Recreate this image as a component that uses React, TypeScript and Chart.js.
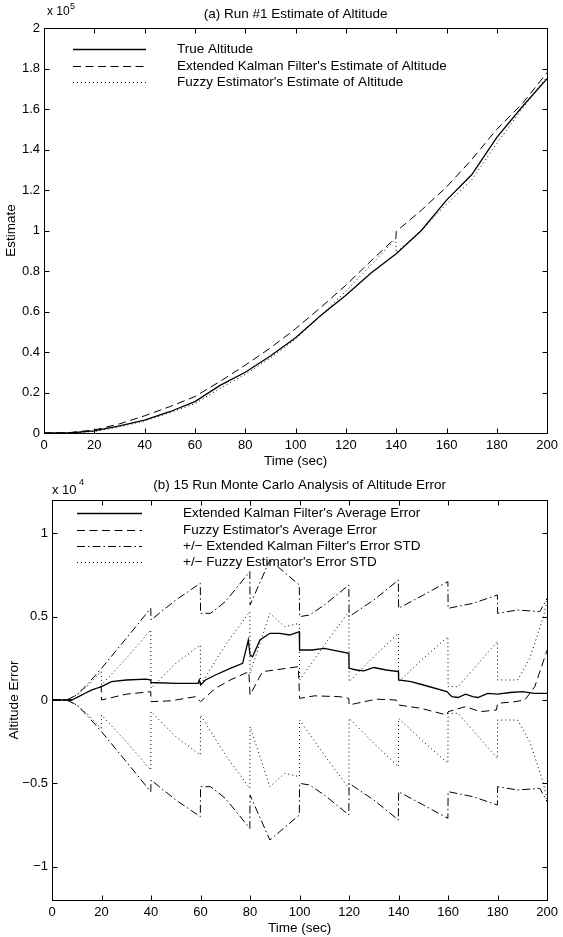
import React, { useEffect, useRef } from 'react';
import { Chart, registerables } from 'chart.js';

Chart.register(...registerables);

const FONT = '"Liberation Sans", Arial, Helvetica, sans-serif';

// ---------- (a) Run #1 Estimate of Altitude ----------
const timeTicks = [0, 20, 40, 60, 80, 100, 120, 140, 160, 180, 200];
const altitudeTicks = [0, 20000, 40000, 60000, 80000, 100000, 120000, 140000, 160000, 180000, 200000];

const trueAltTime = [0, 10, 20, 30, 40, 50, 60, 70, 80, 90, 100, 110, 120, 130, 140, 150, 160, 170, 180, 190, 200];
const trueAltitude = [0, 0, 1000, 3500, 6400, 10500, 15500, 23500, 30000, 38000, 47000, 58000, 68000, 79000, 88500, 100000, 115000, 127500, 146000, 161000, 175000];

const ekfAltTime = [0, 10, 20, 30, 40, 50, 60, 70, 80, 90, 100, 110, 120, 130, 139.9, 140, 150, 160, 170, 180, 190, 200];
const ekfAltitude = [0, 200, 1500, 4500, 8500, 13000, 18000, 25500, 33500, 42000, 51500, 62000, 73000, 85000, 96500, 99500, 110000, 121500, 135000, 150000, 162500, 178000];

const fuzzyAltTime = [0, 10, 20, 30, 40, 50, 60, 70, 80, 90, 100, 110, 120, 130, 139.9, 140, 150, 160, 170, 180, 190, 200];
const fuzzyAltitude = [0, 100, 800, 3000, 6000, 10000, 14500, 22000, 29000, 37000, 46500, 58000, 70000, 83000, 96000, 89000, 100000, 113000, 125000, 143000, 160000, 176000];

const topLegendLabels = [
  'True Altitude',
  "Extended Kalman Filter's Estimate of Altitude",
  "Fuzzy Estimator's Estimate of Altitude",
];

// ---------- (b) 15 Run Monte Carlo Analysis of Altitude Error ----------
const errorTicks = [-10000, -5000, 0, 5000, 10000];

const ekfAvgTime = [0, 8, 12, 16, 20, 24, 30, 38, 39.9, 40, 50, 59, 59.5, 60, 62, 66, 72, 77, 79.3, 80, 81, 84, 88, 92, 96, 99.9, 100, 105, 110, 119.9, 120, 123, 126, 130, 135, 139.9, 140, 145, 150, 159.5, 161.5, 164, 167, 170, 172, 176, 180, 185, 190, 195, 200];
const ekfAvgError = [0, 0, 300, 600, 800, 1100, 1200, 1250, 1200, 1050, 1000, 1000, 1200, 900, 1200, 1500, 1900, 2200, 3600, 2700, 2600, 3600, 4000, 4000, 3900, 4100, 3000, 3000, 3100, 2800, 1900, 1800, 1750, 1950, 1800, 1700, 1200, 1100, 900, 500, 200, 150, 350, 200, 150, 400, 350, 450, 500, 400, 400];

const fuzzyAvgTime = [0, 8, 12, 16, 19.9, 20, 30, 39.9, 40, 48, 58, 60, 66, 72, 79.5, 80, 85, 90, 99.5, 100, 106, 116, 119.9, 120, 123, 131, 139, 140, 149, 159.5, 160, 167, 173, 179.5, 180, 187, 191, 195, 200];
const fuzzyAvgError = [0, 0, 300, 600, 800, 0, 350, 500, -100, -50, 200, -100, 700, 1200, 1700, 300, 1700, 1800, 2000, 100, 250, 200, 100, -300, -200, 50, 0, -300, -500, -900, -700, -400, -700, -600, -200, -100, 0, 800, 3000];

const ekfStdTime = [0, 6, 10, 14, 20, 30, 39.9, 40, 50, 59.9, 60, 64, 70, 79.9, 80, 88, 99.9, 100, 104, 110, 119.9, 120, 130, 139.9, 140, 150, 159.9, 160, 170, 179.9, 180, 188, 197, 200];
const ekfStd = [0, 0, 300, 900, 1900, 3700, 5500, 4800, 6000, 7000, 5200, 5200, 5900, 7700, 5700, 8400, 6900, 5000, 5100, 5700, 6900, 5000, 6000, 7200, 5500, 6300, 7100, 5500, 5800, 6300, 5200, 5400, 5300, 6100];

const fuzzyStdTime = [0, 6, 10, 14, 19.9, 20, 30, 39.9, 40, 50, 59.9, 60, 70, 79.9, 80, 88, 94, 99.9, 100, 110, 119.9, 120, 130, 139.9, 140, 150, 159.9, 160, 164, 179.9, 180, 188, 193, 198.5, 200];
const fuzzyStd = [0, 0, 300, 800, 1700, 900, 2500, 4200, 700, 2200, 3300, 900, 3300, 5300, 1600, 5200, 4400, 4600, 1200, 3300, 5300, 1100, 2600, 4000, 1100, 2500, 3800, 800, 800, 3500, 1200, 1200, 2500, 5000, 6000];

const bottomLegendLabels = [
  "Extended Kalman Filter's Average Error",
  "Fuzzy Estimator's Average Error",
  "+/\u2212 Extended Kalman Filter's Error STD",
  "+/\u2212 Fuzzy Estimator's Error STD",
];

// ---------- styles ----------
const SOLID: number[] = [];
const DASHED = [8, 4.5];
const DASHDOT = [8, 3, 1.5, 3];
const DOTTED = [1, 3];
const TEXT_SIZE = 13.5;
const TICK_SIZE = 13;

function xy(t: number[], v: number[], sign = 1) {
  return t.map((x, i) => ({ x, y: sign * v[i] }));
}

function fmt(n: number) {
  const r = Math.round(n * 100) / 100;
  if (r < 0) return '\u2212' + String(-r);
  return String(r === 0 ? 0 : r);
}

function lineDs(label: string, data: { x: number; y: number }[], dash: number[], width = 1) {
  return {
    label,
    data,
    borderColor: '#000',
    backgroundColor: '#000',
    borderWidth: width,
    borderDash: dash,
    pointRadius: 0,
    pointHoverRadius: 0,
    tension: 0,
    fill: false,
  };
}

type DecorCfg = {
  title: string;
  titleY: number;
  expX: number;
  expY: number;
  expSize: number;
  expSup: string;
  supX: number;
  supY: number;
  legend: { label: string; dash: number[]; width: number }[];
  lx1: number;
  lx2: number;
  ltx: number;
  rows: number[];
};

function makeDecor(cfg: DecorCfg) {
  return {
    id: 'matlabDecor',
    afterDatasetsDraw(chart: any) {
      const { ctx, chartArea: a } = chart;
      ctx.save();
      ctx.strokeStyle = '#000';
      ctx.fillStyle = '#000';
      ctx.setLineDash([]);
      ctx.lineWidth = 1;
      const L = Math.round(a.left) + 0.5;
      const R = Math.round(a.right) + 0.5;
      const T = Math.round(a.top) + 0.5;
      const B = Math.round(a.bottom) + 0.5;
      ctx.strokeRect(L, T, R - L, B - T);
      const xs = chart.scales.x;
      const ys = chart.scales.y;
      const TL = 5;
      ctx.beginPath();
      xs.ticks.forEach((t: any) => {
        const px = Math.round(xs.getPixelForValue(t.value)) + 0.5;
        ctx.moveTo(px, T);
        ctx.lineTo(px, T + TL);
        ctx.moveTo(px, B);
        ctx.lineTo(px, B - TL);
      });
      ys.ticks.forEach((t: any) => {
        const py = Math.round(ys.getPixelForValue(t.value)) + 0.5;
        ctx.moveTo(L, py);
        ctx.lineTo(L + TL, py);
        ctx.moveTo(R, py);
        ctx.lineTo(R - TL, py);
      });
      ctx.stroke();

      ctx.textBaseline = 'middle';
      ctx.textAlign = 'center';
      ctx.font = `${TEXT_SIZE}px ${FONT}`;
      ctx.fillText(cfg.title, (a.left + a.right) / 2, cfg.titleY);
      ctx.textAlign = 'left';
      ctx.font = `${cfg.expSize}px ${FONT}`;
      ctx.fillText('x 10', cfg.expX, cfg.expY);
      ctx.font = `9px ${FONT}`;
      ctx.fillText(cfg.expSup, cfg.supX, cfg.supY);

      cfg.legend.forEach((it, i) => {
        const y = Math.round(cfg.rows[i]) + 0.5;
        ctx.setLineDash(it.dash);
        ctx.lineWidth = it.width;
        ctx.beginPath();
        ctx.moveTo(cfg.lx1, y);
        ctx.lineTo(cfg.lx2, y);
        ctx.stroke();
        ctx.setLineDash([]);
        ctx.font = `${TEXT_SIZE}px ${FONT}`;
        ctx.fillText(it.label, cfg.ltx, y);
      });
      ctx.restore();
    },
  };
}

function axisCommon(ticks: number[], fmtFn: (v: number) => string, fit: (s: any) => void, pad: number) {
  return {
    type: 'linear' as const,
    afterBuildTicks: (s: any) => {
      s.ticks = ticks.map((v) => ({ value: v }));
    },
    afterFit: fit,
    grid: { display: false, drawTicks: false },
    border: { display: false },
    ticks: {
      color: '#000',
      font: { family: FONT, size: TICK_SIZE },
      padding: pad,
      autoSkip: false,
      maxRotation: 0,
      minRotation: 0,
      callback: (v: any) => fmtFn(Number(v)),
    },
  };
}

function axisTitle(text: string, padding: any) {
  return { display: true, text, color: '#000', font: { family: FONT, size: TEXT_SIZE }, padding };
}

function topConfig(): any {
  return {
    type: 'line',
    data: {
      datasets: [
        lineDs(topLegendLabels[0], xy(trueAltTime, trueAltitude), SOLID, 1.3),
        lineDs(topLegendLabels[1], xy(ekfAltTime, ekfAltitude), DASHED, 1),
        lineDs(topLegendLabels[2], xy(fuzzyAltTime, fuzzyAltitude), DOTTED, 1),
      ],
    },
    options: {
      animation: false,
      responsive: false,
      events: [],
      layout: { padding: { top: 28, right: 12, left: 0, bottom: 0 } },
      plugins: { legend: { display: false }, tooltip: { enabled: false }, title: { display: false } },
      scales: {
        x: {
          ...axisCommon(timeTicks, (v) => String(v), (s: any) => { s.height = 37; }, 5),
          min: 0,
          max: 200,
          title: axisTitle('Time (sec)', { top: 0, bottom: 1 }),
        },
        y: {
          ...axisCommon(altitudeTicks, (v) => fmt(v / 1e5), (s: any) => { s.width = 44; }, 4),
          min: 0,
          max: 200000,
          title: axisTitle('Estimate', { top: 3, bottom: 0 }),
        },
      },
    },
    plugins: [
      makeDecor({
        title: '(a) Run #1 Estimate of Altitude',
        titleY: 14,
        expX: 47,
        expY: 12,
        expSize: 12,
        expSup: '5',
        supX: 70,
        supY: 7,
        legend: [
          { label: topLegendLabels[0], dash: SOLID, width: 1.3 },
          { label: topLegendLabels[1], dash: DASHED, width: 1 },
          { label: topLegendLabels[2], dash: DOTTED, width: 1 },
        ],
        lx1: 73,
        lx2: 146,
        ltx: 177,
        rows: [49, 66, 82],
      }),
    ],
  };
}

function bottomConfig(): any {
  return {
    type: 'line',
    data: {
      datasets: [
        lineDs(bottomLegendLabels[0], xy(ekfAvgTime, ekfAvgError), SOLID, 1.3),
        lineDs(bottomLegendLabels[1], xy(fuzzyAvgTime, fuzzyAvgError), DASHED, 1),
        lineDs(bottomLegendLabels[2], xy(ekfStdTime, ekfStd), DASHDOT, 1),
        lineDs(bottomLegendLabels[2], xy(ekfStdTime, ekfStd, -1), DASHDOT, 1),
        lineDs(bottomLegendLabels[3], xy(fuzzyStdTime, fuzzyStd), DOTTED, 1),
        lineDs(bottomLegendLabels[3], xy(fuzzyStdTime, fuzzyStd, -1), DOTTED, 1),
      ],
    },
    options: {
      animation: false,
      responsive: false,
      events: [],
      layout: { padding: { top: 30, right: 11, left: 0, bottom: 0 } },
      plugins: { legend: { display: false }, tooltip: { enabled: false }, title: { display: false } },
      scales: {
        x: {
          ...axisCommon(timeTicks, (v) => String(v), (s: any) => { s.height = 37; }, 5),
          min: 0,
          max: 200,
          title: axisTitle('Time (sec)', { top: 0, bottom: 1 }),
        },
        y: {
          ...axisCommon(errorTicks, (v) => fmt(v / 1e4), (s: any) => { s.width = 52; }, 4),
          min: -12000,
          max: 12000,
          title: axisTitle('Altitude Error', { top: 6, bottom: 0 }),
        },
      },
    },
    plugins: [
      makeDecor({
        title: '(b) 15 Run Monte Carlo Analysis of Altitude Error',
        titleY: 15,
        expX: 52,
        expY: 20,
        expSize: 13,
        expSup: '4',
        supX: 79,
        supY: 13,
        legend: [
          { label: bottomLegendLabels[0], dash: SOLID, width: 1.3 },
          { label: bottomLegendLabels[1], dash: DASHED, width: 1 },
          { label: bottomLegendLabels[2], dash: DASHDOT, width: 1 },
          { label: bottomLegendLabels[3], dash: DOTTED, width: 1 },
        ],
        lx1: 77,
        lx2: 142,
        ltx: 183,
        rows: [43, 60, 76, 92],
      }),
    ],
  };
}

export default function App() {
  const topRef = useRef<HTMLCanvasElement>(null);
  const botRef = useRef<HTMLCanvasElement>(null);

  useEffect(() => {
    Chart.defaults.font.family = FONT;
    Chart.defaults.color = '#000';
    const c1 = new Chart(topRef.current as HTMLCanvasElement, topConfig());
    const c2 = new Chart(botRef.current as HTMLCanvasElement, bottomConfig());
    return () => {
      c1.destroy();
      c2.destroy();
    };
  }, []);

  return (
    <div style={{ position: 'absolute', left: 0, top: 0, width: 563, height: 937, background: '#fff', overflow: 'hidden' }}>
      <canvas
        ref={topRef}
        width={563}
        height={470}
        style={{ position: 'absolute', left: 0, top: 0, width: 563, height: 470, display: 'block' }}
      />
      <canvas
        ref={botRef}
        width={563}
        height={467}
        style={{ position: 'absolute', left: 0, top: 470, width: 563, height: 467, display: 'block' }}
      />
    </div>
  );
}
